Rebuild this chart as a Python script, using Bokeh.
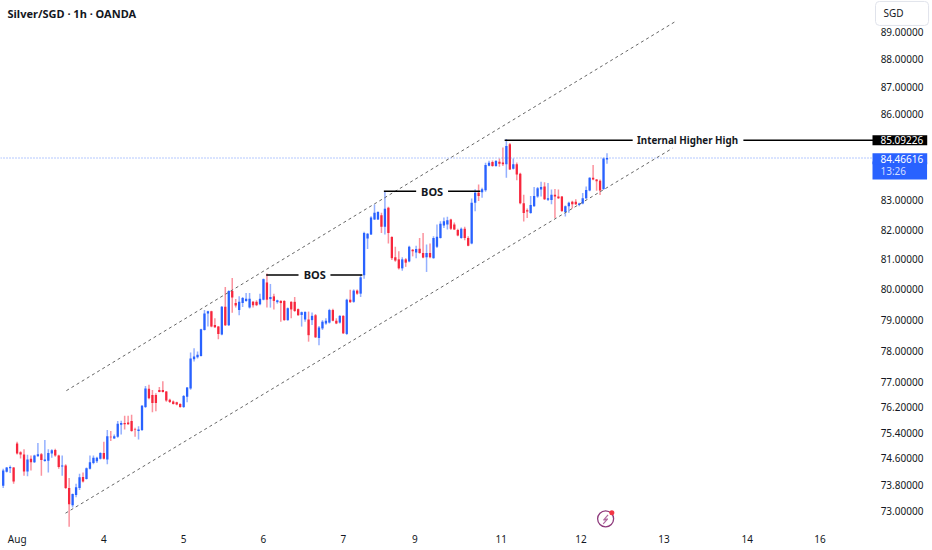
from bokeh.plotting import figure
from bokeh.models import Range1d, FixedTicker, PrintfTickFormatter, Label
from bokeh.core.properties import value
from bokeh.embed import file_html
from bokeh.resources import INLINE

TITLE = "Silver/SGD · 1h · OANDA"
BLUE = "#2962FF"
RED = "#F7263C"
INK = "#131722"

opens = [73.76,74.19,74.30,74.32,75.06,74.79,74.72,74.20,74.59,74.48,
 74.67,74.73,74.52,74.53,74.75,74.86,74.69,74.35,74.38,73.69,
 73.17,73.48,73.69,74.03,73.97,74.28,74.46,74.51,74.59,74.77,
 74.57,75.27,75.22,75.27,75.65,75.70,75.72,75.76,75.50,75.45,
 75.48,76.20,76.78,76.58,76.58,76.74,76.74,76.69,76.43,76.38,
 76.35,76.30,76.20,76.53,76.79,77.72,77.79,77.83,78.67,79.21,
 79.28,78.83,78.78,78.52,79.43,78.82,79.95,79.55,79.32,79.55,
 79.62,79.40,79.59,79.59,79.51,79.66,80.23,79.68,79.77,79.58,
 79.62,79.62,78.99,79.59,79.59,79.35,79.16,79.01,79.01,78.99,
 79.15,78.41,78.72,78.88,78.91,79.32,78.97,78.91,79.13,78.54,
 79.66,79.59,79.96,79.86,80.47,81.70,81.84,82.35,82.35,82.49,
 82.10,82.75,81.75,81.07,81.00,80.70,81.00,80.93,81.32,81.23,
 81.36,81.21,81.07,81.21,81.04,81.42,81.72,82.14,82.18,82.35,
 82.18,81.99,81.72,82.03,81.72,81.53,82.92,83.26,83.28,83.35,
 84.20,84.33,84.19,84.34,84.31,84.25,84.95,84.09,84.25,83.92,
 82.90,82.66,82.57,82.80,83.13,83.37,83.48,83.02,83.01,83.19,
 83.13,83.13,82.60,82.80,82.95,82.95,82.84,82.89,83.07,83.34,
 83.78,83.72,83.68,83.39,84.41]
highs = [74.28,74.34,74.38,74.34,75.12,74.82,74.88,74.71,74.69,74.71,
 75.08,74.77,75.17,74.88,74.88,74.90,74.71,74.69,74.42,74.00,
 73.53,73.82,74.13,74.17,74.32,74.69,74.69,74.65,74.79,75.12,
 75.48,75.45,75.34,75.76,75.77,75.93,75.93,75.96,75.55,75.60,
 76.27,76.87,76.91,76.74,76.64,76.84,77.02,76.71,76.46,76.41,
 76.37,76.32,76.58,76.84,77.94,78.08,77.97,78.71,79.32,79.30,
 79.30,79.05,78.80,79.45,80.08,79.97,80.38,79.68,79.77,79.75,
 79.88,79.88,79.62,79.64,79.86,80.36,80.53,80.18,79.86,79.66,
 79.64,79.64,79.40,79.61,79.75,79.37,79.27,79.27,79.27,79.24,
 79.19,78.80,78.99,79.05,79.36,79.36,79.05,79.15,79.15,79.69,
 79.99,80.00,80.00,80.48,81.93,81.89,82.46,82.86,82.63,82.58,
 83.32,82.78,81.78,81.42,81.27,81.07,81.04,81.46,81.35,81.46,
 81.72,81.89,81.50,81.53,81.78,82.18,82.29,82.41,82.44,82.37,
 82.24,82.03,82.07,82.10,81.78,83.06,83.38,83.55,83.43,84.30,
 84.37,84.38,84.40,84.45,84.83,85.13,84.99,84.45,84.31,83.95,
 83.19,82.72,83.15,83.46,83.46,83.64,83.62,83.60,83.37,83.39,
 83.37,83.15,82.82,82.95,82.99,83.04,82.92,83.25,83.48,83.80,
 84.22,83.74,83.72,84.48,84.63]
lows = [73.69,74.17,74.15,73.82,74.72,74.60,74.07,74.05,74.23,74.46,
 74.65,74.07,74.50,74.17,74.62,74.65,74.28,74.07,73.66,72.52,
 73.10,73.41,73.63,73.86,73.95,74.26,74.42,74.46,74.57,74.57,
 74.42,75.14,75.21,75.24,75.34,75.50,75.65,75.43,75.27,75.19,
 75.45,76.17,76.45,76.04,76.07,76.67,76.66,76.37,76.33,76.28,
 76.26,76.18,76.17,76.35,76.75,77.65,77.75,77.81,78.65,78.78,
 78.76,78.73,78.37,78.50,78.80,78.80,79.23,79.40,79.15,79.42,
 79.59,79.37,79.40,79.45,79.48,79.64,79.40,79.40,79.34,79.53,
 78.94,78.97,78.97,79.05,79.26,79.13,78.78,78.94,78.29,78.83,
 78.41,78.17,78.67,78.84,78.88,78.95,78.86,78.88,78.54,78.51,
 79.55,79.56,79.82,79.75,80.35,81.35,81.82,82.33,82.33,81.89,
 81.84,81.53,80.98,80.92,80.66,80.62,80.75,80.90,81.10,81.04,
 81.19,81.04,80.58,81.04,81.02,81.38,81.70,82.06,82.01,81.99,
 81.99,81.78,81.69,81.64,81.44,81.51,82.63,82.98,83.09,83.30,
 84.18,84.16,84.16,84.16,84.19,83.78,84.05,84.07,83.69,82.87,
 82.28,82.40,82.54,82.78,83.09,83.13,83.01,82.98,82.87,82.40,
 83.05,82.60,82.45,82.58,82.72,82.84,82.80,82.87,83.04,83.31,
 83.69,83.33,83.18,83.36,84.27]
closes = [74.23,74.32,74.34,73.89,74.75,74.72,74.20,74.57,74.48,74.69,
 74.73,74.55,74.57,74.77,74.85,74.69,74.34,74.38,73.69,73.20,
 73.51,73.72,74.02,73.89,74.30,74.48,74.62,74.62,74.77,74.59,
 75.29,75.26,75.29,75.68,75.70,75.66,75.66,75.45,75.48,75.50,
 76.24,76.79,76.48,76.33,76.33,76.68,76.68,76.41,76.36,76.30,
 76.28,76.20,76.55,76.82,77.75,77.81,77.87,78.69,79.21,79.28,
 78.78,78.76,78.54,79.43,78.82,79.95,79.73,79.47,79.59,79.72,
 79.69,79.69,79.48,79.48,79.69,80.34,79.66,79.75,79.62,79.64,
 79.55,78.99,79.38,79.34,79.29,79.15,79.25,79.26,78.50,79.13,
 78.43,78.75,78.94,78.97,79.32,78.97,78.88,79.13,78.56,79.66,
 79.58,79.96,79.86,80.40,81.89,81.86,82.41,82.58,82.60,82.10,
 82.71,81.89,81.04,80.96,80.70,81.00,80.89,81.42,81.27,81.35,
 81.21,81.06,81.21,81.07,81.72,81.76,82.20,82.29,82.32,82.03,
 82.01,81.80,82.03,81.72,81.46,82.92,83.26,83.15,83.38,84.22,
 84.30,84.19,84.36,84.27,84.25,84.89,84.07,84.25,83.89,82.90,
 82.57,82.62,82.84,83.15,83.42,83.46,83.04,83.07,83.19,83.13,
 83.07,82.64,82.80,82.92,82.87,82.87,82.89,83.07,83.36,83.78,
 83.72,83.66,83.34,84.45,84.46616]

price_ticks = [73,73.8,74.6,75.4,76.2,77,78,79,80,81,82,83,86,87,88,89]
day_bars = [4.03,29,52,75,98,118.6,143.5,166.5,190.4,214.4,235.4]
day_labels = ["Aug","4","5","6","7","9","11","12","13","14","16"]

channel_x = [[18.2,193.7],[17.95,192.9]]
channel_y = [[76.72,89.37],[72.93,84.81]]

bos_x = [[75.8,85.1],[94.3,103.5],[109.7,119.0],[128.2,137.5]]
bos_y = [[80.48,80.48],[80.48,80.48],[83.31,83.31],[83.31,83.31]]
bos_text_x = [89.8,123.6]
bos_text_y = [80.48,83.31]
high_x = [[144.5,181.4],[213.3,250.8]]
high_price = 85.09226
last_price = 84.46616
axis_bar = 250.55

p = figure(width=932, height=550, output_backend="svg", toolbar_location=None,
           y_axis_type="log", y_axis_location="right",
           x_range=Range1d(-0.78, 267.8), y_range=Range1d(72.41, 90.15),
           min_border_left=0, min_border_top=0, min_border_right=0, min_border_bottom=20,
           outline_line_color=None, background_fill_color="white",
           styles={"position": "absolute", "left": "0px", "top": "0px"})
p.grid.visible = False

yax = p.yaxis[0]
yax.fixed_location = axis_bar
yax.ticker = FixedTicker(ticks=price_ticks)
yax.formatter = PrintfTickFormatter(format="%.5f")
yax.axis_line_color = None
yax.major_tick_line_color = None
yax.minor_tick_line_color = None
yax.major_tick_out = 0
yax.major_tick_in = 0
yax.minor_tick_out = 0
yax.minor_tick_in = 0
yax.major_label_text_font = "Noto Sans"
yax.major_label_text_font_size = "10px"
yax.major_label_text_color = INK
yax.major_label_standoff = 8

xax = p.xaxis[0]
xax.ticker = FixedTicker(ticks=day_bars)
xax.major_label_overrides = dict(zip(day_bars, day_labels))
xax.axis_line_color = None
xax.major_tick_line_color = None
xax.minor_tick_line_color = None
xax.major_tick_out = 0
xax.major_tick_in = 0
xax.minor_tick_out = 0
xax.minor_tick_in = 0
xax.major_label_text_font = "Noto Sans"
xax.major_label_text_font_size = "10px"
xax.major_label_text_color = INK
xax.major_label_standoff = 1

# candles
idx = list(range(len(opens)))
for up, col in ((True, BLUE), (False, RED)):
    sel = [i for i in idx if (closes[i] >= opens[i]) == up]
    p.segment([i for i in sel], [highs[i] for i in sel], [i for i in sel], [lows[i] for i in sel],
              line_color=col, line_width=1.5, line_alpha=0.5)
    p.vbar(x=sel, width=0.66,
           top=[max(opens[i], closes[i]) for i in sel],
           bottom=[min(opens[i], closes[i]) for i in sel],
           fill_color=col, line_color=None)

# channel
p.multi_line(channel_x, channel_y, line_color="#666666", line_width=1, line_dash="3 3")

# last price dotted line
p.line([-0.78, axis_bar], [last_price, last_price], line_color=BLUE, line_width=1, line_dash="1 2", line_alpha=0.7)

# BOS and internal high lines
p.multi_line(bos_x, bos_y, line_color="black", line_width=1.5)
p.multi_line(high_x, [[high_price, high_price]] * 2, line_color="black", line_width=1.5)
p.text(x=bos_text_x, y=bos_text_y, text=["BOS", "BOS"], text_align="center", text_baseline="middle",
       text_font=value("Noto Sans"), text_font_size="11px", text_font_style="bold", text_color=INK)
p.text(x=[197.2], y=[high_price], text=["Internal Higher High"], text_align="center", text_baseline="middle",
       text_font=value("Noto Sans"), text_font_size="9.8px", text_font_style="bold", text_color=INK)

# small logo
p.scatter([173.6], [72.76], size=16, marker="circle", fill_color=None, line_color="#8E3A7C", line_width=1.3)
p.scatter([175.4], [72.94], size=5, marker="circle", fill_color="#F23645", line_color=None)
p.line([174.3, 173.0, 174.2, 172.9], [72.88, 72.72, 72.76, 72.61], line_color="#B06AA0", line_width=1.2)

# title
p.add_layout(Label(x=7, x_units="screen", y=89.68, text=TITLE, text_font="Noto Sans",
                   text_font_size="11px", text_font_style="bold", text_color=INK,
                   text_baseline="middle"))
# SGD button (padding order: left, right, top, bottom)
p.add_layout(Label(x=875, x_units="screen", y=89.67, text="SGD", text_font="Noto Sans",
                   text_font_size="10px", text_color=INK, text_baseline="middle",
                   background_fill_color="white", border_line_color="#E0E3EB",
                   padding=(8, 25, 5, 5), border_radius=4))
# price tags
p.add_layout(Label(x=872, x_units="screen", y=high_price, text="85.09226", text_font="Noto Sans",
                   text_font_size="10px", text_color="white", text_baseline="middle",
                   background_fill_color="black", padding=(8, 4, 1, 1)))
p.add_layout(Label(x=872, x_units="screen", y=84.03, text="13:26", text_font="Noto Sans",
                   text_font_size="10px", text_color="#D4DFFF", text_baseline="middle",
                   background_fill_color=BLUE, padding=(8, 21, 2, 2)))
p.add_layout(Label(x=872, x_units="screen", y=84.44, text="84.46616", text_font="Noto Sans",
                   text_font_size="10px", text_color="white", text_baseline="middle",
                   background_fill_color=BLUE, padding=(8, 4, 2, 1)))

open("out.html", "w").write(file_html(p, INLINE))
